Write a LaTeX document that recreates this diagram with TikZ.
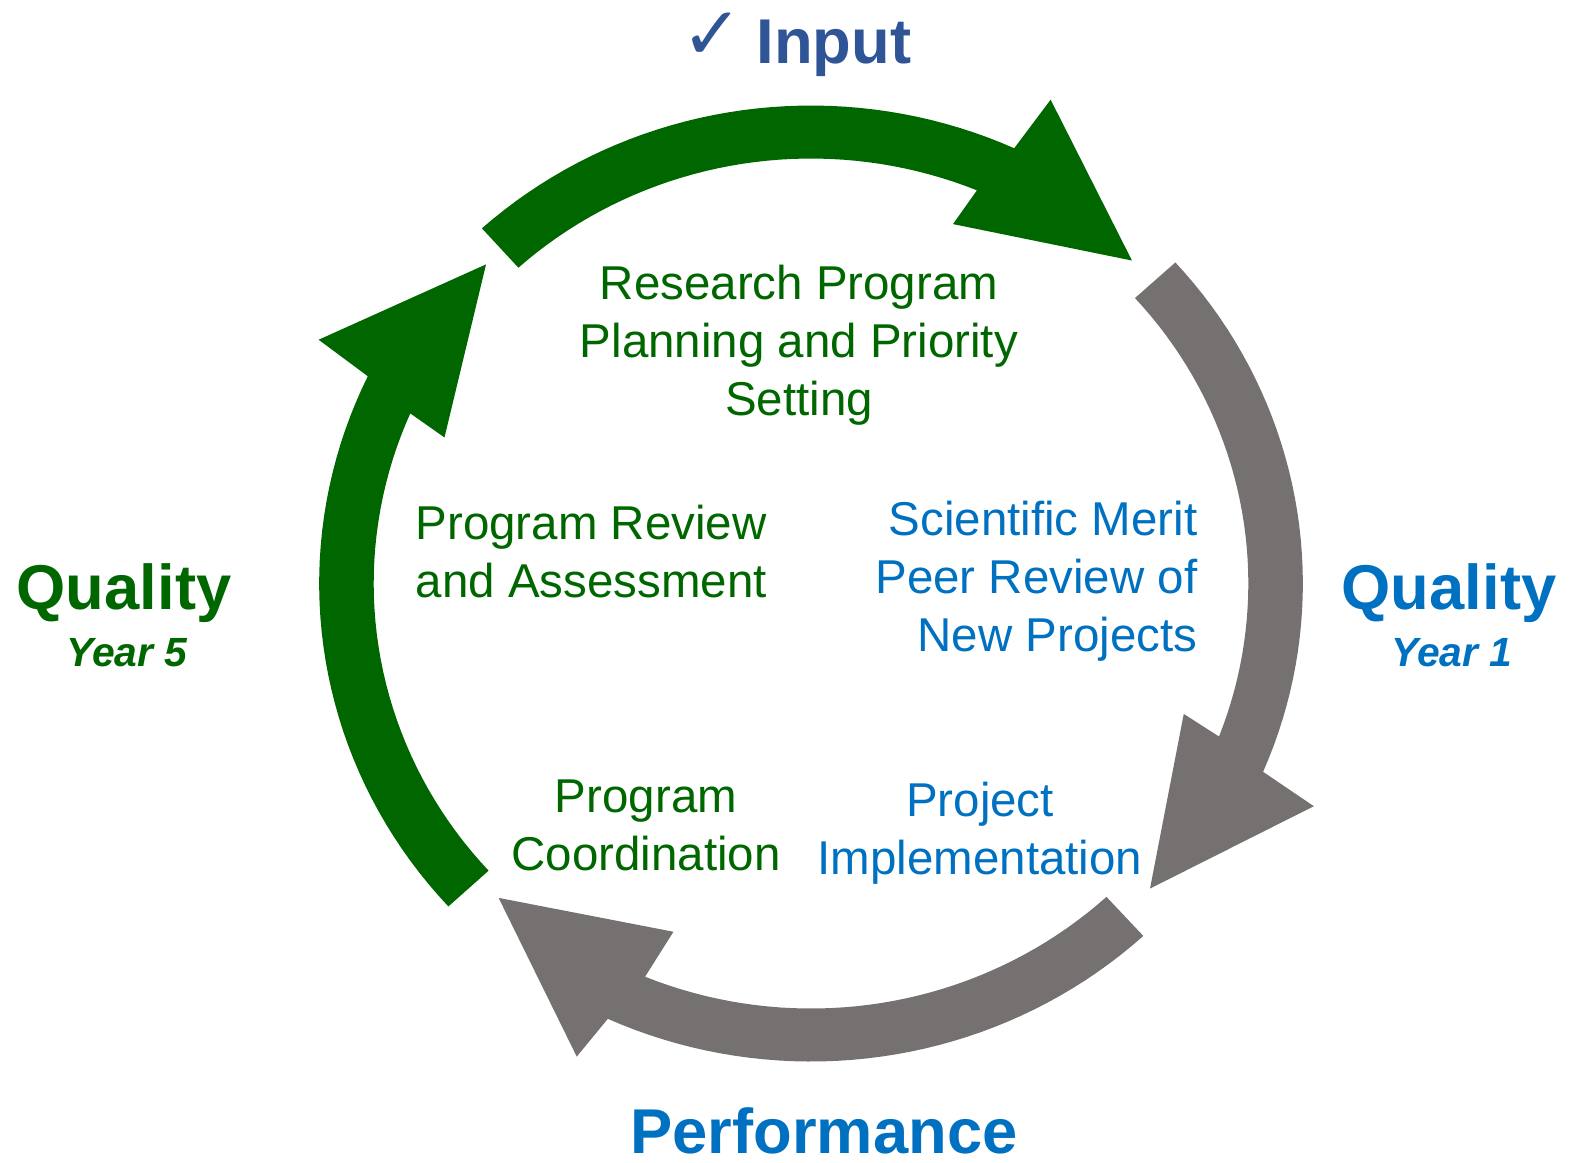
\documentclass[tikz,border=0pt]{standalone}
\usepackage{fontspec}
\setmainfont{Liberation Sans}
\newfontfamily\checkfont{DejaVu Sans}
\definecolor{cycleGreen}{RGB}{0,102,0}
\definecolor{cycleGray}{RGB}{118,113,113}
\definecolor{cycleBlue}{RGB}{0,112,192}
\definecolor{inputBlue}{RGB}{47,85,151}

\begin{document}
\begin{tikzpicture}[x=0.01cm,y=0.01cm,
  heading/.style={font=\fontsize{18}{21}\selectfont\bfseries, anchor=base, inner sep=0},
  yearlabel/.style={font=\fontsize{11.6}{14}\selectfont\bfseries\itshape, anchor=base, inner sep=0},
  stage/.style={font=\fontsize{13.5}{16.4}\selectfont, inner sep=0}]
% Parameters
\def\cx{811}
\def\cy{-583.5}
\def\kx{1.029}
\def\rOut{478}
\def\rIn{425}
\def\rTip{449}
\def\rBarbOut{537}
\def\rBarbIn{385}

\useasboundingbox (0,0) rectangle (1583,-1162);

% Cycle arrows (rotation/tail offset/head offset/head shift/colour)
\foreach \rot/\tl/\hd/\hr/\col in {0/-0.5/0/0/cycleGreen, 90/-0.3/1.2/0/cycleGray,
    180/0/0/-12/cycleGray, 270/0/-1.3/0/cycleGreen}{
  \pgfmathsetmacro\aTail{132.5-\rot+\tl}
  \pgfmathsetmacro\aOut{65.6-\rot+\hd}
  \pgfmathsetmacro\aIn{67.7-\rot+\hd}
  \pgfmathsetmacro\aBarbOut{64.3-\rot+\hd}
  \pgfmathsetmacro\aBarbIn{69-\rot+\hd}
  \pgfmathsetmacro\aTip{46-\rot+\hd}
  \pgfmathsetmacro\rBO{\rBarbOut+\hr}
  \pgfmathsetmacro\rBI{\rBarbIn+\hr}
  \pgfmathsetmacro\rT{\rTip+\hr}
  \fill[\col] plot[domain=\aTail:\aOut, samples=40] ({\cx+\kx*\rOut*cos(\x)},{\cy+\rOut*sin(\x)})
    -- ({\cx+\kx*\rBO*cos(\aBarbOut)},{\cy+\rBO*sin(\aBarbOut)})
    -- ({\cx+\kx*\rT*cos(\aTip)},{\cy+\rT*sin(\aTip)})
    -- ({\cx+\kx*\rBI*cos(\aBarbIn)},{\cy+\rBI*sin(\aBarbIn)})
    -- plot[domain=\aIn:\aTail, samples=40] ({\cx+\kx*\rIn*cos(\x)},{\cy+\rIn*sin(\x)})
    -- cycle;
}

% Outer labels
\node[inner sep=0, text=inputBlue, font=\checkfont\fontsize{21}{24}\selectfont] (check) at (712,-36) {✓};
\node[heading, text=inputBlue] (input) at (834,-63) {Input};
\node[heading, text=cycleGreen] (qualityL) at (124,-609) {Quality};
\node[yearlabel, text=cycleGreen] (yearL) at (127,-666) {Year 5};
\node[heading, text=cycleBlue] (qualityR) at (1449,-609) {Quality};
\node[yearlabel, text=cycleBlue] (yearR) at (1452,-666) {Year 1};
\node[heading, text=cycleBlue] (performance) at (824,-1153) {Performance};

% Stages (base = last line)
\node[stage, anchor=base, align=center, text=cycleGreen] (planning) at (799,-415)
  {Research Program\\Planning and Priority\\Setting};
\node[stage, anchor=base west, align=left, text=cycleGreen] (review) at (415,-597)
  {Program Review\\and Assessment};
\node[stage, anchor=base east, align=right, text=cycleBlue] (merit) at (1198,-651)
  {Scientific Merit\\Peer Review of\\New Projects};
\node[stage, anchor=base, align=center, text=cycleGreen] (coordination) at (646,-870)
  {Program\\Coordination};
\node[stage, anchor=base, align=center, text=cycleBlue] (implementation) at (980,-874)
  {Project\\Implementation};
\end{tikzpicture}
\end{document}
